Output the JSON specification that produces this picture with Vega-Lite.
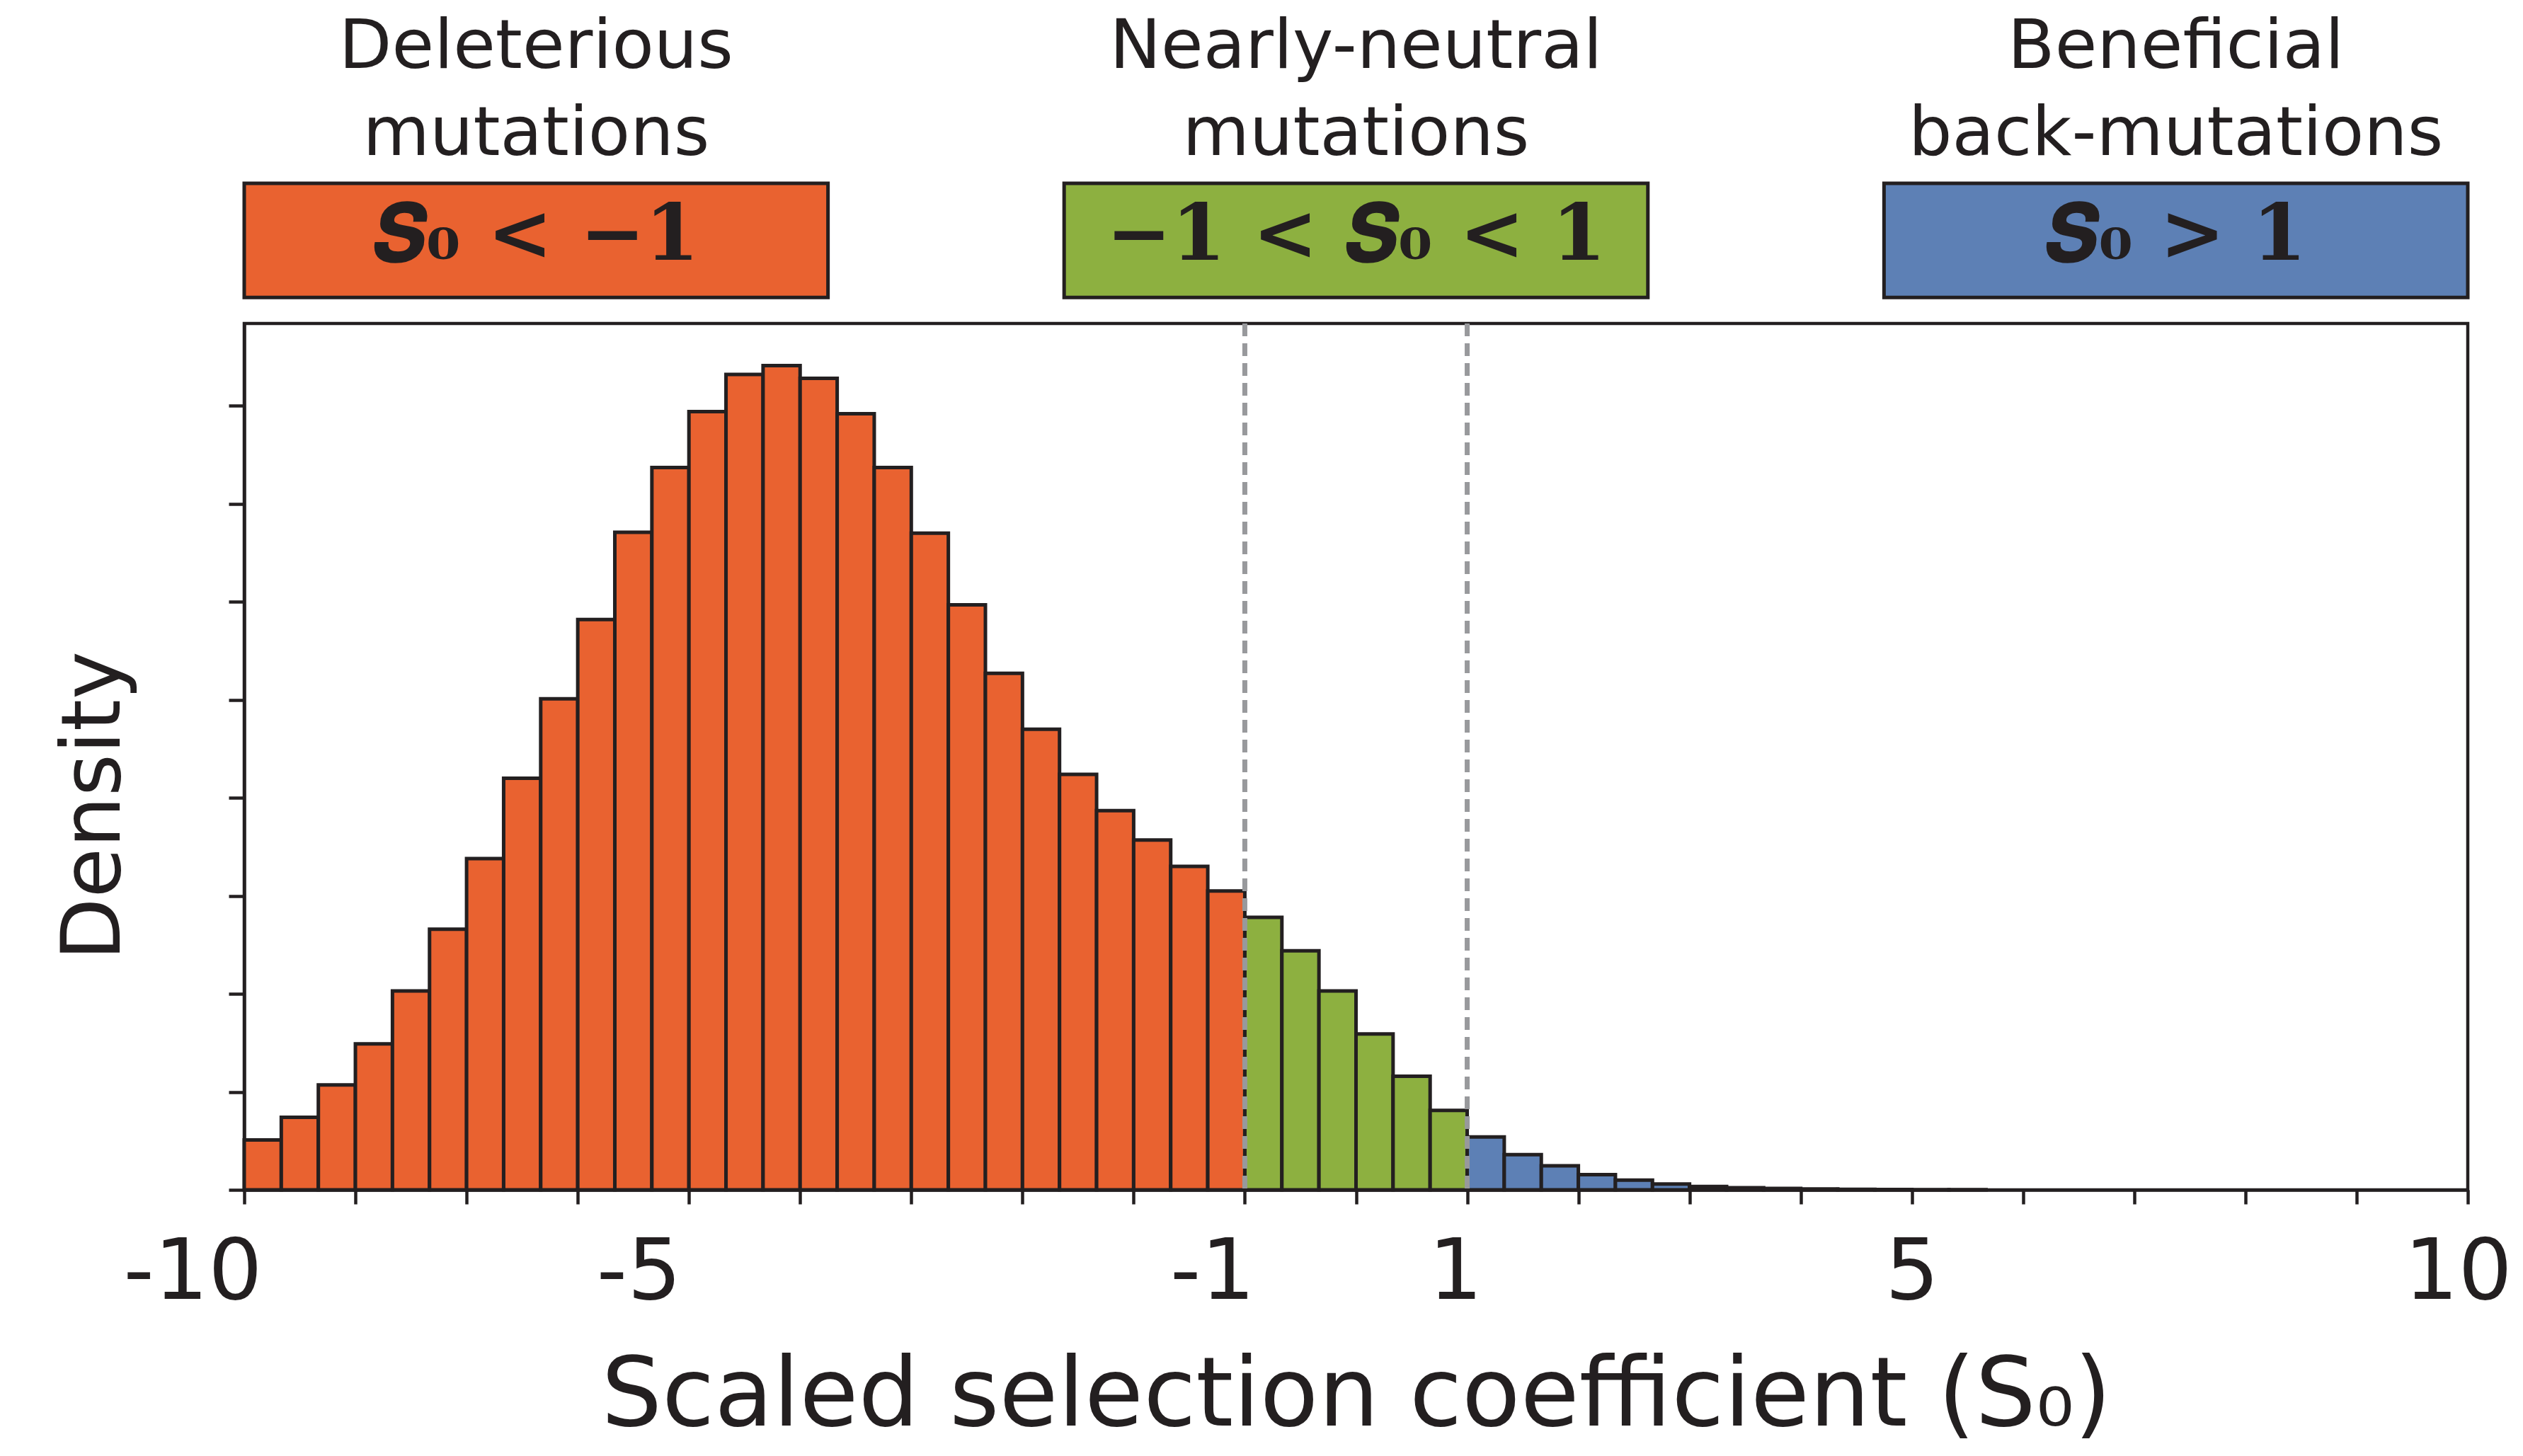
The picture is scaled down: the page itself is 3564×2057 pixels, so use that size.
{
  "$schema": "https://vega.github.io/schema/vega-lite/v6.json",
  "width": 3141,
  "height": 1224,
  "autosize": {"type": "none"},
  "padding": {"left": 345, "top": 457, "right": 78, "bottom": 376},
  "background": "white",
  "config": {
    "view": {"stroke": "#231f20", "strokeWidth": 4.5},
    "axis": {
      "domainColor": "#231f20",
      "domainWidth": 4.5,
      "tickColor": "#231f20",
      "tickWidth": 4.5,
      "grid": false,
      "labelColor": "#231f20",
      "titleColor": "#231f20",
      "labelFont": "DejaVu Sans",
      "titleFont": "DejaVu Sans",
      "titleFontWeight": "normal",
      "labelFontWeight": "normal"
    }
  },
  "datasets": {
    "hist": [
      {"lo": -10, "hi": -9.6667, "d": 0.51, "cls": "del"},
      {"lo": -9.6667, "hi": -9.3333, "d": 0.74, "cls": "del"},
      {"lo": -9.3333, "hi": -9, "d": 1.07, "cls": "del"},
      {"lo": -9, "hi": -8.6667, "d": 1.49, "cls": "del"},
      {"lo": -8.6667, "hi": -8.3333, "d": 2.03, "cls": "del"},
      {"lo": -8.3333, "hi": -8, "d": 2.66, "cls": "del"},
      {"lo": -8, "hi": -7.6667, "d": 3.38, "cls": "del"},
      {"lo": -7.6667, "hi": -7.3333, "d": 4.2, "cls": "del"},
      {"lo": -7.3333, "hi": -7, "d": 5.01, "cls": "del"},
      {"lo": -7, "hi": -6.6667, "d": 5.82, "cls": "del"},
      {"lo": -6.6667, "hi": -6.3333, "d": 6.71, "cls": "del"},
      {"lo": -6.3333, "hi": -6, "d": 7.37, "cls": "del"},
      {"lo": -6, "hi": -5.6667, "d": 7.94, "cls": "del"},
      {"lo": -5.6667, "hi": -5.3333, "d": 8.32, "cls": "del"},
      {"lo": -5.3333, "hi": -5, "d": 8.41, "cls": "del"},
      {"lo": -5, "hi": -4.6667, "d": 8.28, "cls": "del"},
      {"lo": -4.6667, "hi": -4.3333, "d": 7.92, "cls": "del"},
      {"lo": -4.3333, "hi": -4, "d": 7.37, "cls": "del"},
      {"lo": -4, "hi": -3.6667, "d": 6.7, "cls": "del"},
      {"lo": -3.6667, "hi": -3.3333, "d": 5.97, "cls": "del"},
      {"lo": -3.3333, "hi": -3, "d": 5.27, "cls": "del"},
      {"lo": -3, "hi": -2.6667, "d": 4.7, "cls": "del"},
      {"lo": -2.6667, "hi": -2.3333, "d": 4.24, "cls": "del"},
      {"lo": -2.3333, "hi": -2, "d": 3.87, "cls": "del"},
      {"lo": -2, "hi": -1.6667, "d": 3.57, "cls": "del"},
      {"lo": -1.6667, "hi": -1.3333, "d": 3.3, "cls": "del"},
      {"lo": -1.3333, "hi": -1, "d": 3.05, "cls": "del"},
      {"lo": -1, "hi": -0.6667, "d": 2.78, "cls": "neu"},
      {"lo": -0.6667, "hi": -0.3333, "d": 2.44, "cls": "neu"},
      {"lo": -0.3333, "hi": 0, "d": 2.03, "cls": "neu"},
      {"lo": 0, "hi": 0.3333, "d": 1.59, "cls": "neu"},
      {"lo": 0.3333, "hi": 0.6667, "d": 1.16, "cls": "neu"},
      {"lo": 0.6667, "hi": 1, "d": 0.81, "cls": "neu"},
      {"lo": 1, "hi": 1.3333, "d": 0.54, "cls": "ben"},
      {"lo": 1.3333, "hi": 1.6667, "d": 0.36, "cls": "ben"},
      {"lo": 1.6667, "hi": 2, "d": 0.245, "cls": "ben"},
      {"lo": 2, "hi": 2.3333, "d": 0.155, "cls": "ben"},
      {"lo": 2.3333, "hi": 2.6667, "d": 0.1, "cls": "ben"},
      {"lo": 2.6667, "hi": 3, "d": 0.06, "cls": "ben"},
      {"lo": 3, "hi": 3.3333, "d": 0.035, "cls": "ben"},
      {"lo": 3.3333, "hi": 3.6667, "d": 0.022, "cls": "ben"},
      {"lo": 3.6667, "hi": 4, "d": 0.014, "cls": "ben"},
      {"lo": 4, "hi": 4.3333, "d": 0.009, "cls": "ben"},
      {"lo": 4.3333, "hi": 4.6667, "d": 0.006, "cls": "ben"},
      {"lo": 4.6667, "hi": 5, "d": 0.004, "cls": "ben"},
      {"lo": 5, "hi": 5.3333, "d": 0.0025, "cls": "ben"},
      {"lo": 5.3333, "hi": 5.6667, "d": 0.0015, "cls": "ben"}
    ],
    "cuts": [{"b": -1}, {"b": 1}],
    "regions": [
      {"cls": "del", "head": "Deleterious\nmutations", "cond": "𝑺₀ < −1"},
      {"cls": "neu", "head": "Nearly-neutral\nmutations", "cond": "−1 < 𝑺₀ < 1"},
      {"cls": "ben", "head": "Beneficial\nback-mutations", "cond": "𝑺₀ > 1"}
    ]
  },
  "layer": [
    {
      "layer": [
        {
          "data": {"name": "hist"},
          "mark": {"type": "rect", "stroke": "#231f20", "strokeWidth": 5},
          "encoding": {
            "x": {
              "field": "lo",
              "type": "quantitative",
              "scale": {"domain": [-10, 10], "nice": false, "zero": false},
              "axis": {
                "values": [-10, -9, -8, -7, -6, -5, -4, -3, -2, -1, 0, 1, 2, 3, 4, 5, 6, 7, 8, 9, 10],
                "labelExpr": "datum.value == -10 ? '-10' : datum.value == -6 ? '-5' : datum.value == -1 ? '-1' : datum.value == 1 ? '1' : datum.value == 5 ? '5' : datum.value == 10 ? '10' : ''",
                "labelFontSize": 120,
                "labelPadding": 38,
                "labelLimit": 0,
                "tickSize": 20,
                "labelFlush": false,
                "labelOverlap": false,
                "labelBound": false,
                "labelOffset": {
                  "condition": [
                    {"test": "datum.value == -10", "value": -73},
                    {"test": "datum.value == -6", "value": -71},
                    {"test": "datum.value == -1", "value": -46},
                    {"test": "datum.value == 1", "value": -17},
                    {"test": "datum.value == 10", "value": -14}
                  ],
                  "value": 0
                },
                "title": "Scaled selection coefficient (S₀)",
                "titleFontSize": 135,
                "titleY": 332,
                "titleBaseline": "alphabetic"
              }
            },
            "x2": {"field": "hi"},
            "y": {
              "field": "d",
              "type": "quantitative",
              "scale": {"domain": [0, 8.84], "nice": false},
              "axis": {
                "values": [0, 1, 2, 3, 4, 5, 6, 7, 8],
                "labels": false,
                "tickSize": 22,
                "title": "Density",
                "titleFontSize": 115,
                "titleAngle": 270,
                "titleX": -177,
                "titleY": 681,
                "titleAlign": "center",
                "titleBaseline": "alphabetic"
              }
            },
            "y2": {"datum": 0},
            "color": {
              "field": "cls",
              "type": "nominal",
              "scale": {"domain": ["del", "neu", "ben"], "range": ["#E96230", "#8DB040", "#5D80B5"]},
              "legend": null
            }
          }
        },
        {
          "data": {"name": "cuts"},
          "mark": {"type": "rule", "color": "#98999c", "strokeWidth": 7, "strokeDash": [18, 10]},
          "encoding": {"x": {"field": "b", "type": "quantitative"}}
        },
        {
          "mark": {"type": "rule", "color": "#231f20", "strokeWidth": 12},
          "encoding": {"x": {"datum": 0, "type": "quantitative"}}
        }
      ]
    },
    {
      "data": {"name": "regions"},
      "encoding": {
        "x": {
          "field": "cls",
          "type": "nominal",
          "sort": ["del", "neu", "ben"],
          "scale": {"paddingInner": 0.288, "paddingOuter": 0},
          "axis": null
        }
      },
      "layer": [
        {
          "mark": {"type": "rect", "stroke": "#231f20", "strokeWidth": 5},
          "encoding": {
            "y": {"datum": 9.105, "type": "quantitative", "scale": {"domain": [0, 8.84], "nice": false}},
            "y2": {"datum": 10.27},
            "color": {"field": "cls", "type": "nominal", "legend": null}
          }
        },
        {
          "mark": {"type": "text", "font": "DejaVu Sans", "fontSize": 97, "color": "#231f20", "baseline": "alphabetic", "align": "center", "lineBreak": "\n", "lineHeight": 123},
          "encoding": {
            "y": {"datum": 11.45, "type": "quantitative", "scale": {"domain": [0, 8.84], "nice": false}},
            "text": {"field": "head"}
          }
        },
        {
          "mark": {"type": "text", "font": "DejaVu Serif", "fontWeight": "bold", "fontSize": 110, "color": "#231f20", "baseline": "alphabetic", "align": "center"},
          "encoding": {
            "y": {"datum": 9.49, "type": "quantitative", "scale": {"domain": [0, 8.84], "nice": false}},
            "text": {"field": "cond"}
          }
        }
      ]
    }
  ],
  "resolve": {"scale": {"x": "independent"}}
}
